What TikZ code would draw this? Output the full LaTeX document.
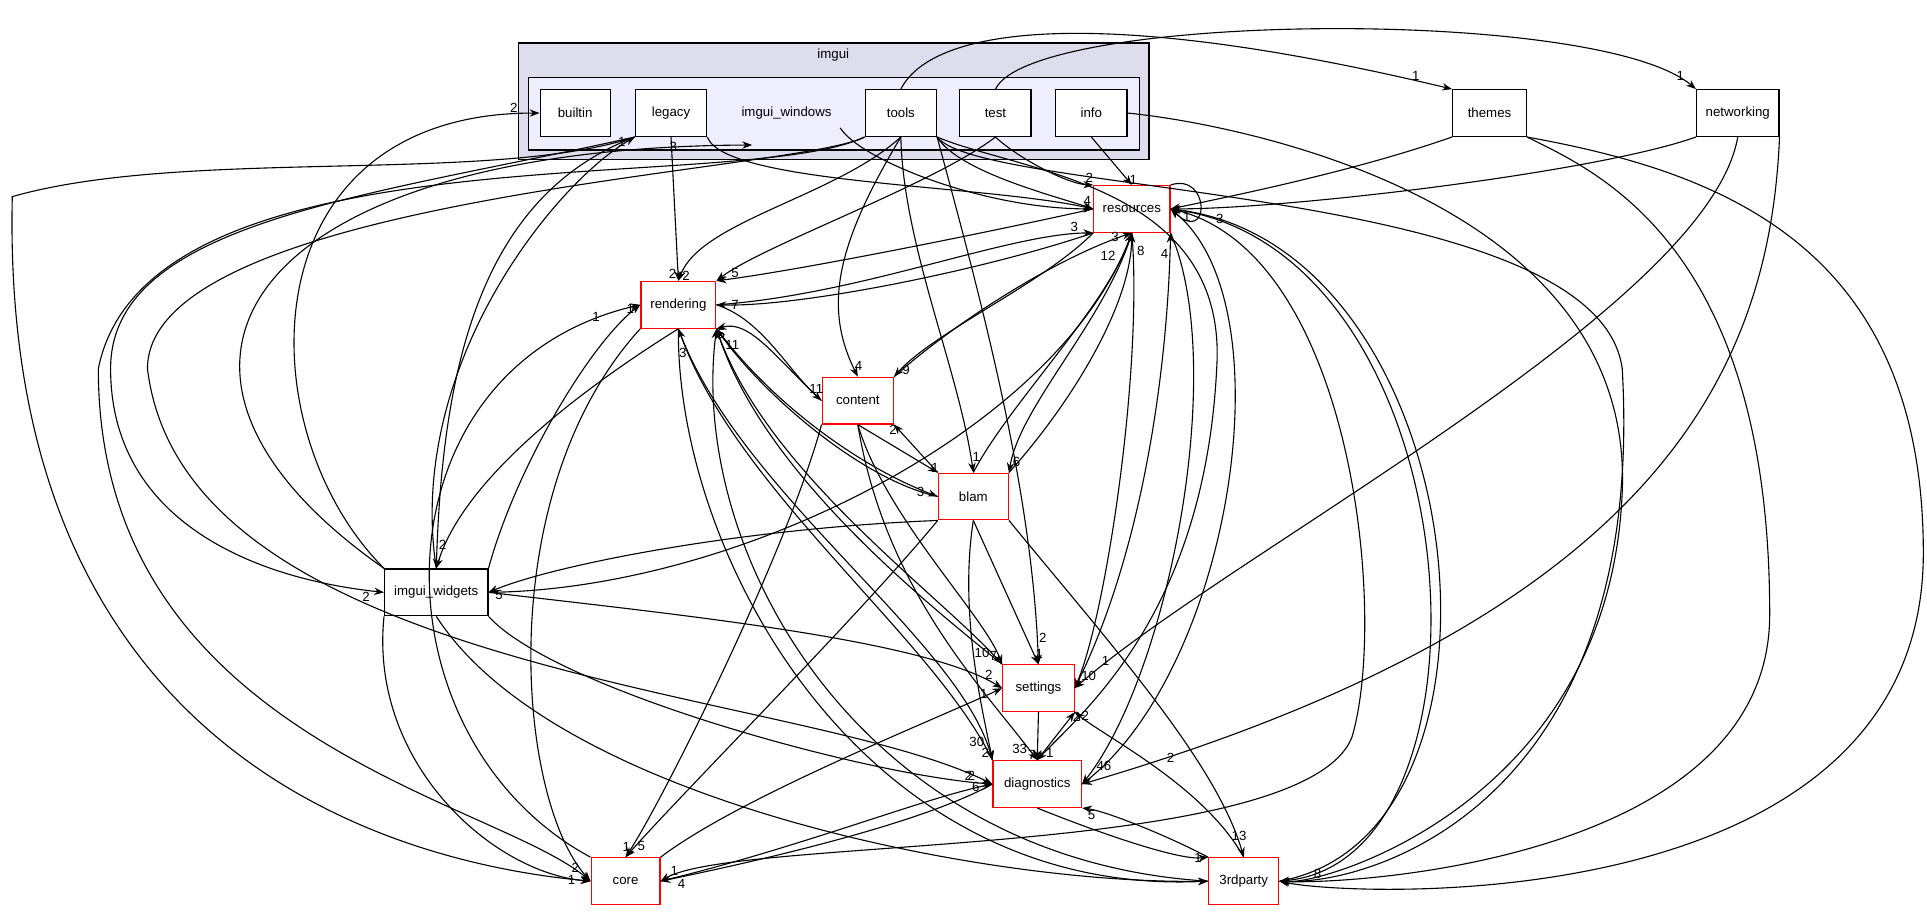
\documentclass[tikz,border=0pt]{standalone}
\usepackage{fontspec}
\setmainfont{Liberation Sans}
\usetikzlibrary{arrows.meta}
\begin{document}
\begin{tikzpicture}[x=0.5pt,y=-0.5pt,
  every node/.style={font=\fontsize{5.4}{6}\selectfont},
  bx/.style={draw=black,fill=white,line width=0.5pt,minimum height=19pt,inner sep=1pt},
  rbx/.style={draw=red,fill=white,line width=0.5pt,minimum height=19pt,inner sep=1pt},
  e/.style={-{Stealth[length=4pt,width=3pt]},line width=0.45pt},
  lab/.style={font=\fontsize{5.4}{6}\selectfont,inner sep=0.5pt}]
\useasboundingbox (0,0) rectangle (1568,742);
\fill[white] (0,0) rectangle (1568,742);
% clusters
\draw[fill={rgb,255:red,221;green,221;blue,238},line width=0.5pt] (422,35) rectangle (935,130);
\node at (678,45) {imgui};
\draw[fill={rgb,255:red,238;green,238;blue,255},line width=0.5pt] (430,63) rectangle (927,122);
\node (iw) at (640,92) {imgui\_windows};
\coordinate (iwin) at (612,118);
% nodes
\node[bx,minimum width=28.5pt] (builtin) at (468,92) {builtin};
\node[bx,minimum width=29pt] (legacy) at (546,92) {legacy};
\node[bx,minimum width=29pt] (tools) at (733,92) {tools};
\node[bx,minimum width=29pt] (test) at (810,92) {test};
\node[bx,minimum width=29pt] (info) at (888,92) {info};
\node[bx,minimum width=30pt] (themes) at (1212,92) {themes};
\node[bx,minimum width=33.5pt] (net) at (1414,92) {networking};
\node[rbx,minimum width=31pt] (res) at (921,170) {resources};
\node[rbx,minimum width=30.5pt] (rend) at (552,248) {rendering};
\node[rbx,minimum width=29pt] (cont) at (698,326) {content};
\node[rbx,minimum width=28.5pt] (blam) at (792,404) {blam};
\node[bx,minimum width=42pt] (iwid) at (355,482) {imgui\_widgets};
\node[rbx,minimum width=29pt] (set) at (845,560) {settings};
\node[rbx,minimum width=36pt] (diag) at (844,638) {diagnostics};
\node[rbx,minimum width=28pt] (core) at (509,717) {core};
\node[rbx,minimum width=28.5pt] (tp) at (1012,717) {3rdparty};
% imgui internals
\draw[e] (tools.north) .. controls (760,20) and (900,5) .. node[lab,pos=.97,above left]{1} (themes.north west);
\draw[e] (test.north) .. controls (840,10) and (1300,5) .. node[lab,pos=.97,above left]{1} (net.north west);
\draw[e] (iwid.north west) .. controls (200,350) and (200,92) .. node[lab,pos=.97,above]{2} (builtin.west);
\draw[e] (iwid.north) .. controls (330,300) and (450,150) .. node[lab,pos=.97,left]{1} (legacy.south west);
\draw[e] (legacy.south west) .. controls (390,160) and (360,300) .. node[lab,pos=.96,right]{2} (iwid.north);
\draw[e] (iwid.north west) .. controls (80,300) and (200,120) .. node[lab,pos=.95,left]{3} (iwin);
\draw[e] (rend.south) .. controls (500,300) and (380,380) .. (iwid.north);
\draw[e] (iwid.north east) .. controls (420,380) and (480,280) .. node[lab,pos=.97,left]{1} (rend.west);
\draw[e] (legacy.south) -- node[lab,pos=.95,left]{2} (rend.north);
\draw[e] (tools.south) .. controls (680,160) and (570,180) .. node[lab,pos=.97,right]{2} (rend.north);
\draw[e] (test.south) .. controls (760,150) and (620,200) .. (rend.north east);
\draw[e] (legacy.south east) .. controls (590,150) and (800,150) .. (res.west);
\draw[e] (iw.south east) .. controls (700,130) and (800,170) .. (res.west);
\draw[e] (tools.south east) .. controls (780,140) and (860,160) .. node[lab,pos=.95,above]{4} (res.west);
\draw[e] (test.south) .. controls (830,130) and (870,150) .. node[lab,pos=.95,above]{2} (res.north west);
\draw[e] (info.south) -- node[lab,pos=.9,right]{1} (res.north);
\draw[e] (themes.south west) .. controls (1100,140) and (1000,160) .. (res.east);
\draw[e] (net.south west) .. controls (1300,140) and (1050,170) .. (res.east);
\draw[e] (legacy.south west) .. controls (400,150) and (150,120) .. (10,160) .. controls (0,600) and (300,700) .. node[lab,pos=.98,left]{1} (core.west);
\draw[e] (legacy.south west) .. controls (300,160) and (90,180) .. (90,300) .. controls (90,420) and (200,470) .. node[lab,pos=.97,below left]{2} (iwid.west);
\draw[e] (tools.south west) .. controls (600,160) and (120,100) .. (80,300) .. controls (80,600) and (400,650) .. node[lab,pos=.97,above left]{2} (core.west);
\draw[e] (tools.south west) .. controls (650,140) and (120,160) .. (120,300) .. controls (150,550) and (650,560) .. node[lab,pos=.97,left]{2} (diag.west);
\draw[e] (tools.south) .. controls (680,200) and (670,250) .. node[lab,pos=.95,right]{4} (cont.north);
\draw[e] (tools.south) .. controls (735,200) and (780,300) .. node[lab,pos=.95,right]{1} (blam.north);
\draw[e] (tools.south east) .. controls (800,250) and (840,400) .. node[lab,pos=.95,right]{2} (set.north);
\draw[e] (tools.south east) .. controls (830,140) and (1000,150) .. (990,300) .. controls (980,500) and (880,580) .. node[lab,pos=.95,right]{1} (diag.north);
\draw[e] (tools.south east) .. controls (800,160) and (1300,150) .. (1320,300) .. controls (1340,650) and (1120,720) .. (tp.east);
\draw[e] (info.east) .. controls (1000,100) and (1330,160) .. (1320,400) .. controls (1310,650) and (1080,720) .. (tp.east);
\draw[e] (themes.south east) .. controls (1300,140) and (1440,200) .. (1440,500) .. controls (1440,700) and (1100,720) .. (tp.east);
\draw[e] (themes.south east) .. controls (1400,140) and (1565,200) .. (1565,450) .. controls (1565,750) and (1100,730) .. (tp.east);
\draw[e] (net.south) .. controls (1390,250) and (1000,450) .. node[lab,pos=.95,above right]{1} (set.east);
\draw[e] (net.south east) .. controls (1440,300) and (1350,500) .. node[lab,pos=.95,right]{2} (diag.east);
% rendering / resources
\draw[e] (rend.east) .. controls (700,240) and (820,190) .. node[lab,pos=.95,above left]{3} (res.south west);
\draw[e] (res.south west) .. controls (800,220) and (650,250) .. node[lab,pos=.95,right]{7} (rend.east);
\draw[e] (res.west) .. controls (800,190) and (650,220) .. node[lab,pos=.95,above right]{5} (rend.north east);
\draw[e] (res.south west) .. controls (850,230) and (760,270) .. node[lab,pos=.95,right]{9} (cont.north east);
\draw[e] (cont.north east) .. controls (780,260) and (860,210) .. node[lab,pos=.95,left]{3} (res.south);
\draw[e] (rend.east) .. controls (620,260) and (640,300) .. node[lab,pos=.95,above]{11} (cont.west);
\draw[e] (cont.west) .. controls (630,290) and (610,260) .. node[lab,pos=.95,below]{5} (rend.south east);
\draw[e] (cont.south) -- node[lab,pos=.9,right]{1} (blam.north west);
\draw[e] (blam.north west) -- node[lab,pos=.9,left]{2} (cont.south east);
\draw[e] (blam.west) .. controls (700,390) and (620,320) .. node[lab,pos=.95,below right]{11} (rend.south east);
\draw[e] (rend.south east) .. controls (630,330) and (700,380) .. node[lab,pos=.95,left]{3} (blam.west);
\draw[e] (blam.north) .. controls (820,330) and (900,250) .. node[lab,pos=.9,left=2pt]{12} (res.south);
\draw[e] (res.south) .. controls (900,260) and (830,330) .. node[lab,pos=.95,right]{6} (blam.north east);
\draw[e] (blam.north east) .. controls (870,330) and (920,250) .. node[lab,pos=.92,right=2pt]{8} (res.south);
\draw[e] (blam.south west) .. controls (600,430) and (450,460) .. node[lab,pos=.95,below]{5} (iwid.east);
\draw[e] (iwid.east) .. controls (600,480) and (860,350) .. (res.south);
\draw[e] (blam.south west) .. controls (700,500) and (560,640) .. node[lab,pos=.95,right]{5} (core.north);
\draw[e] (blam.south) -- node[lab,pos=.93,right]{1} (set.north);
\draw[e] (blam.south) .. controls (780,500) and (800,580) .. node[lab,pos=.95,left]{2} (diag.north west);
\draw[e] (blam.south east) .. controls (900,520) and (990,620) .. node[lab,pos=.95,above]{13} (tp.north);
\draw[e] (rend.south west) .. controls (400,400) and (420,650) .. (core.west);
\draw[e] (core.north west) .. controls (300,600) and (300,300) .. node[lab,pos=.95,left]{1} (rend.west);
\draw[e] (rend.south east) .. controls (620,380) and (760,480) .. node[lab,pos=.95,left]{10} (set.north west);
\draw[e] (set.north west) .. controls (740,480) and (620,380) .. (rend.south east);
\draw[e] (rend.south) .. controls (600,400) and (780,520) .. node[lab,pos=.95,left]{30} (diag.north west);
\draw[e] (diag.north west) .. controls (760,520) and (600,400) .. node[lab,pos=.95,left]{3} (rend.south);
\draw[e] (rend.south) .. controls (550,450) and (700,730) .. (tp.west);
\draw[e] (tp.west) .. controls (700,700) and (560,450) .. (rend.south east);
\draw[e] (cont.south west) .. controls (640,450) and (540,650) .. node[lab,pos=.95,left]{1} (core.north);
\draw[e] (cont.south) .. controls (720,420) and (800,500) .. node[lab,pos=.95,left]{7} (set.north west);
\draw[e] (cont.south) .. controls (720,480) and (800,560) .. node[lab,pos=.95,left]{33} (diag.north);
% imgui_widgets
\draw[e] (iwid.east) .. controls (550,500) and (750,520) .. node[lab,pos=.95,above]{2} (set.west);
\draw[e] (iwid.south east) .. controls (450,560) and (700,630) .. node[lab,pos=.95,above]{2} (diag.west);
\draw[e] (iwid.south west) .. controls (300,620) and (400,710) .. (core.west);
\draw[e] (iwid.south) .. controls (450,650) and (800,720) .. (tp.west);
% lower cluster
\draw[e] (set.south) -- node[lab,pos=.9,left]{7} (diag.north);
\draw[e] (diag.north) -- node[lab,pos=.9,right]{2} (set.south east);
\draw[e] (core.east) .. controls (650,690) and (750,650) .. node[lab,pos=.95,left]{6} (diag.west);
\draw[e] (diag.west) .. controls (750,670) and (620,700) .. node[lab,pos=.95,below right]{4} (core.east);
\draw[e] (core.north east) .. controls (600,650) and (750,590) .. node[lab,pos=.95,left]{1} (set.west);
\draw[e] (diag.south) .. controls (900,680) and (960,700) .. node[lab,pos=.95,left]{1} (tp.north west);
\draw[e] (tp.north west) .. controls (950,680) and (900,660) .. node[lab,pos=.95,below right]{5} (diag.south east);
\draw[e] (tp.north) .. controls (980,640) and (900,600) .. node[lab,pos=.95,right]{2} (set.south east);
\draw[e] (res.south) .. controls (930,300) and (900,500) .. node[lab,pos=.95,right]{10} (set.east);
\draw[e] (set.east) .. controls (930,450) and (950,300) .. node[lab,pos=.95,left]{4} (res.south east);
\draw[e] (res.south east) .. controls (1000,300) and (950,550) .. node[lab,pos=.95,right]{46} (diag.east);
\draw[e] (diag.east) .. controls (1000,550) and (1050,250) .. (res.east);
\draw[e] (res.east) .. controls (1100,200) and (1130,500) .. (1100,600) .. controls (1060,700) and (600,680) .. node[lab,pos=.97,above right]{1} (core.east);
\draw[e] (res.east) .. controls (1200,200) and (1230,700) .. node[lab,pos=.95,right]{8} (tp.east);
\draw[e] (tp.east) .. controls (1250,680) and (1200,200) .. node[lab,pos=.95,right]{3} (res.east);
\draw[e] (res.north east) .. controls (985,140) and (985,200) .. node[lab,pos=.9,right]{1} (res.east);
\end{tikzpicture}
\end{document}
